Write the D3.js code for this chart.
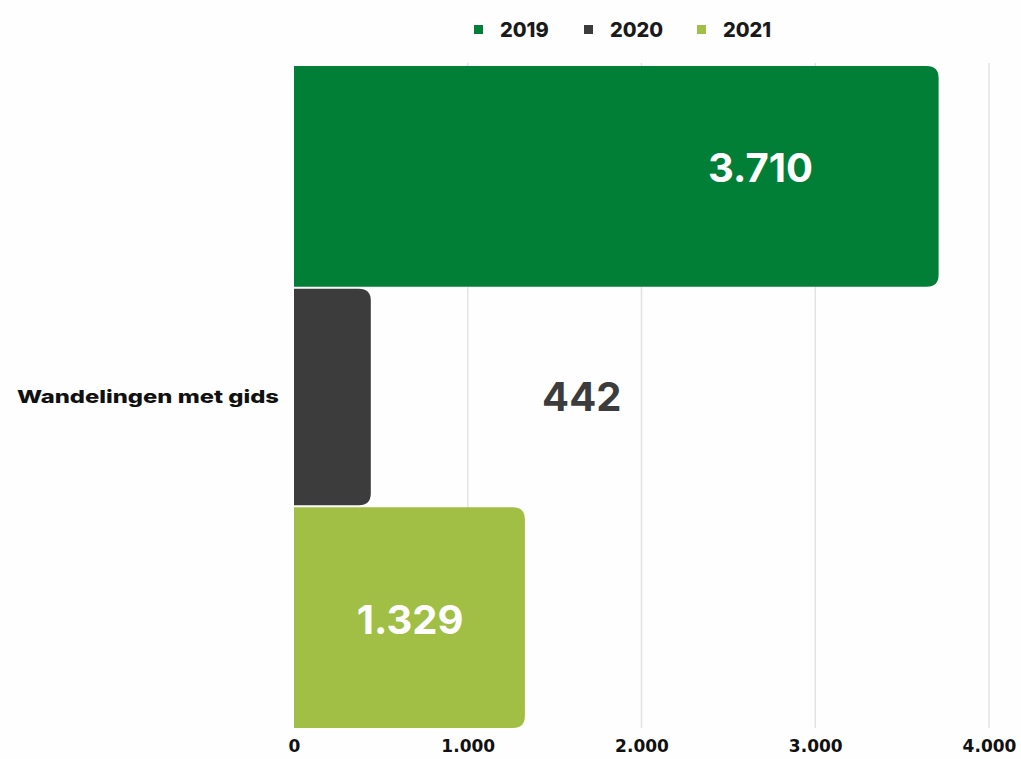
<!DOCTYPE html>
<html>
<head>
<meta charset="utf-8">
<script src="https://cdn.jsdelivr.net/npm/d3@7"></script>
<style>
  html, body { margin: 0; padding: 0; background: #fefefe; }
  svg { display: block; font-family: Inter, "Open Sans", sans-serif; }
</style>
</head>
<body>
<div id="chart"></div>
<script>
// chart data
var category = "Wandelingen met gids";
var years = ["2019", "2020", "2021"];
var values = [3710, 442, 1329];
var colors = ["#027f36", "#3c3c3c", "#a0bf44"];
var labelColors = ["#ffffff", "#3c3c3c", "#ffffff"];
// where each value label sits, in data units
var labelAt = [2685, 1656, 668];
var ticks = [0, 1000, 2000, 3000, 4000];

var W = 1021, H = 759;
var svg = d3.select("#chart").append("svg")
    .attr("width", W)
    .attr("height", H);

var x = d3.scaleLinear().domain([0, 4000]).range([294, 989]);
var y = d3.scaleBand().domain(years).range([66, 728]).padding(0);

var fmt = function (v) {
    return d3.format(",")(v).replace(/,/g, ".");
};

// grid lines
svg.append("g")
    .selectAll("line")
    .data(ticks.slice(1))
    .join("line")
        .attr("x1", function (d) { return x(d); })
        .attr("x2", function (d) { return x(d); })
        .attr("y1", 63)
        .attr("y2", 728)
        .attr("stroke", "#e3e3e3")
        .attr("stroke-width", 1.5);

// bars: square on the left, rounded on the right
var r = 12;
function barPath(x0, x1, y0, y1) {
    var rr = Math.min(r, (x1 - x0));
    return "M" + x0 + "," + y0 +
        "H" + (x1 - rr) +
        "Q" + x1 + "," + y0 + " " + x1 + "," + (y0 + rr) +
        "V" + (y1 - rr) +
        "Q" + x1 + "," + y1 + " " + (x1 - rr) + "," + y1 +
        "H" + x0 + "Z";
}

svg.append("g")
    .selectAll("path")
    .data(years)
    .join("path")
        .attr("d", function (d, i) {
            return barPath(x(0), x(values[i]), y(d) + (i === 1 ? 2 : 0), y(d) + y.bandwidth() - (i === 1 ? 2 : 0));
        })
        .attr("fill", function (d, i) { return colors[i]; });

// value labels (the top one sits a little above its bar's middle)
svg.append("g")
    .selectAll("text")
    .data(years)
    .join("text")
        .attr("x", function (d, i) { return x(labelAt[i]); })
        .attr("y", function (d, i) { return y(d) + y.bandwidth() / 2 + (i === 0 ? -9 : (i === 2 ? 2 : 0)); })
        .attr("dy", "0.36em")
        .attr("text-anchor", "middle")
        .attr("font-size", 40)
        .attr("font-weight", 700)
        .attr("fill", function (d, i) { return labelColors[i]; })
        .text(function (d, i) { return fmt(values[i]); });

// category label
svg.append("text")
    .attr("x", 279)
    .attr("y", y("2020") + y.bandwidth() / 2)
    .attr("dy", "0.36em")
    .attr("text-anchor", "end")
    .attr("font-size", 18)
    .attr("font-weight", 800)
    .attr("textLength", 262)
    .attr("lengthAdjust", "spacingAndGlyphs")
    .attr("fill", "#111")
    .text(category);

// x axis
var xAxis = svg.append("g")
    .attr("transform", "translate(0,737)")
    .call(d3.axisBottom(x).tickValues(ticks).tickFormat(fmt).tickSize(0));
xAxis.select(".domain").remove();
xAxis.selectAll("text")
    .attr("font-family", "'DejaVu Sans', sans-serif")
    .attr("font-size", 17)
    .attr("font-weight", 700)
    .attr("fill", "#111");

// legend
var legend = svg.append("g");
var legendX = [474, 584, 697];
years.forEach(function (yr, i) {
    var g = legend.append("g").attr("transform", "translate(" + legendX[i] + ",25)");
    g.append("rect")
        .attr("width", 9)
        .attr("height", 9)
        .attr("fill", colors[i]);
    g.append("text")
        .attr("x", 26)
        .attr("y", 5)
        .attr("dy", "0.36em")
        .attr("font-size", 20)
        .attr("font-weight", 800)
        .attr("fill", "#1a1a1a")
        .text(yr);
});
</script>
</body>
</html>
